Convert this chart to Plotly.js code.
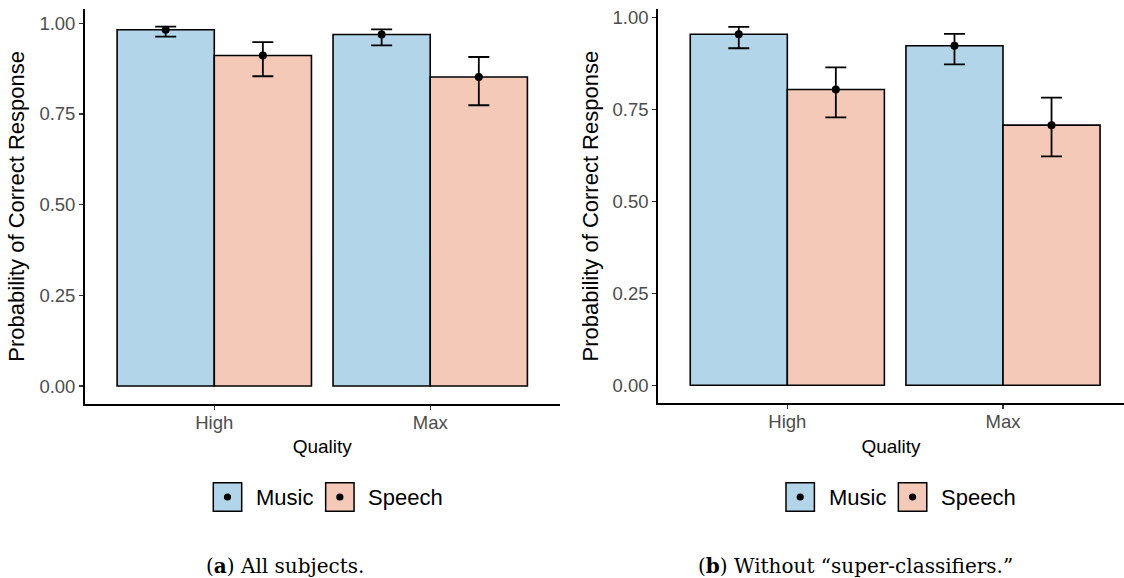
<!DOCTYPE html>
<html>
<head>
<meta charset="utf-8">
<script src="https://cdn.plot.ly/plotly-3.0.1.min.js"></script>
<style>
html,body{margin:0;padding:0;background:#fff;}
#chart{width:1124px;height:578px;}
</style>
</head>
<body>
<div id="chart"></div>
<script>
// ---------- data ----------
const categories = ['High', 'Max'];
const seriesNames = ['Music', 'Speech'];

// (a) All subjects
const allMusic      = [0.982, 0.969];
const allMusicUpper = [0.991, 0.983];
const allMusicLower = [0.963, 0.939];
const allSpeech      = [0.911, 0.852];
const allSpeechUpper = [0.948, 0.907];
const allSpeechLower = [0.854, 0.774];

// (b) Without super-classifiers
const noSupMusic      = [0.954, 0.923];
const noSupMusicUpper = [0.974, 0.955];
const noSupMusicLower = [0.916, 0.872];
const noSupSpeech      = [0.804, 0.707];
const noSupSpeechUpper = [0.864, 0.782];
const noSupSpeechLower = [0.728, 0.622];

const captions = ['(<b>a</b>) All subjects.', '(<b>b</b>) Without \u201csuper-classifiers.\u201d'];
const xTitle = 'Quality';
const yTitle = 'Probability of Correct Response';

// ---------- styling ----------
const W = 1124, H = 578;
const px = x => x / W;
const py = y => 1 - y / H;
const fills = ['#b3d5e9', '#f4c9b8'];
const SANS = 'Liberation Sans, Arial, sans-serif';

function panelTraces(musicV, musicU, musicL, speechV, speechU, speechL, xa, ya) {
  const vals = [musicV, speechV], ups = [musicU, speechU], los = [musicL, speechL];
  const traces = [];
  for (let s = 0; s < 2; s++) {
    traces.push({
      type: 'bar', name: seriesNames[s], x: categories, y: vals[s],
      xaxis: xa, yaxis: ya, offsetgroup: seriesNames[s], showlegend: false,
      marker: {color: fills[s], line: {color: '#000', width: 1.6}},
      error_y: {type: 'data', symmetric: false,
        array: ups[s].map((u, i) => u - vals[s][i]),
        arrayminus: los[s].map((l, i) => vals[s][i] - l),
        color: '#000', thickness: 1.8, width: 10.5},
      hoverinfo: 'skip'
    });
  }
  for (let s = 0; s < 2; s++) {
    traces.push({
      type: 'scatter', mode: 'markers', name: seriesNames[s], x: categories, y: vals[s],
      xaxis: xa, yaxis: ya, offsetgroup: seriesNames[s], showlegend: false,
      marker: {color: '#000', size: 8}, hoverinfo: 'skip'
    });
  }
  return traces;
}

const data = [].concat(
  panelTraces(allMusic, allMusicUpper, allMusicLower, allSpeech, allSpeechUpper, allSpeechLower, 'x', 'y'),
  panelTraces(noSupMusic, noSupMusicUpper, noSupMusicLower, noSupSpeech, noSupSpeechUpper, noSupSpeechLower, 'x2', 'y2')
);

function xAxis(domain, range) {
  return {
    domain: domain, range: range, type: 'category',
    showline: true, linecolor: '#000', linewidth: 1.6,
    ticks: 'outside', ticklen: 4, tickwidth: 1.1, tickcolor: '#333',
    ticklabelstandoff: -3,
    tickfont: {family: SANS, size: 18.5, color: '#4d4d4d'},
    showgrid: false, zeroline: false, fixedrange: true,
    title: {text: xTitle, font: {family: SANS, size: 19, color: '#000'}, standoff: 8}
  };
}
function yAxis(domain, range, anchor) {
  return {
    domain: domain, range: range, anchor: anchor,
    tickvals: [0, 0.25, 0.5, 0.75, 1], tickformat: '.2f',
    showline: true, linecolor: '#000', linewidth: 1.6,
    ticks: 'outside', ticklen: 4, tickwidth: 1.1, tickcolor: '#333',
    tickfont: {family: SANS, size: 18.5, color: '#4d4d4d'},
    showgrid: false, zeroline: false, fixedrange: true,
    title: {text: yTitle, font: {family: SANS, size: 22, color: '#000'}, standoff: 8}
  };
}

// legend drawn with shapes + annotations
const shapes = [], annotations = [];
const legendStarts = [213.3, 786.0];
legendStarts.forEach(x0 => {
  seriesNames.forEach((name, s) => {
    const bx = x0 + s * 112.35;
    shapes.push({type: 'rect', xref: 'paper', yref: 'paper',
      x0: px(bx), x1: px(bx + 28.4), y0: py(511.2), y1: py(482.7),
      fillcolor: fills[s], line: {color: '#000', width: 1.5}});
    shapes.push({type: 'circle', xref: 'paper', yref: 'paper',
      x0: px(bx + 14.2 - 3.6), x1: px(bx + 14.2 + 3.6), y0: py(497 + 3.6), y1: py(497 - 3.6),
      fillcolor: '#000', line: {color: '#000', width: 0}});
    annotations.push({xref: 'paper', yref: 'paper', x: px(bx + 40.5), y: py(497),
      xanchor: 'left', yanchor: 'middle', showarrow: false, text: name,
      font: {family: SANS, size: 22, color: '#000'}});
  });
});
const capX = [285.2, 855.5];
captions.forEach((c, i) => {
  annotations.push({xref: 'paper', yref: 'paper', x: px(capX[i]), y: py(565.5),
    xanchor: 'center', yanchor: 'middle', showarrow: false, text: c,
    font: {family: 'DejaVu Serif, serif', size: 20, color: '#000'}});
});

const layout = {
  width: W, height: H,
  margin: {l: 0, r: 0, t: 0, b: 0},
  paper_bgcolor: '#fff', plot_bgcolor: 'rgba(0,0,0,0)',
  barmode: 'group', bargap: 0.1, bargroupgap: 0,
  scattermode: 'group', scattergap: 0.1,
  showlegend: false,
  xaxis: xAxis([0.07536, 0.49804], [-0.6, 1.6]),
  yaxis: yAxis([0.30104, 0.98495], [-0.0495, 1.0402], 'x'),
  xaxis2: Object.assign(xAxis([0.58532, 1.0], [-0.6, 1.561]), {anchor: 'y2'}),
  yaxis2: yAxis([0.30242, 0.98443], [-0.0487, 1.0227], 'x2'),
  shapes: shapes,
  annotations: annotations
};
layout.xaxis.anchor = 'y';

Plotly.newPlot('chart', data, layout, {displayModeBar: false, staticPlot: true});
</script>
</body>
</html>
